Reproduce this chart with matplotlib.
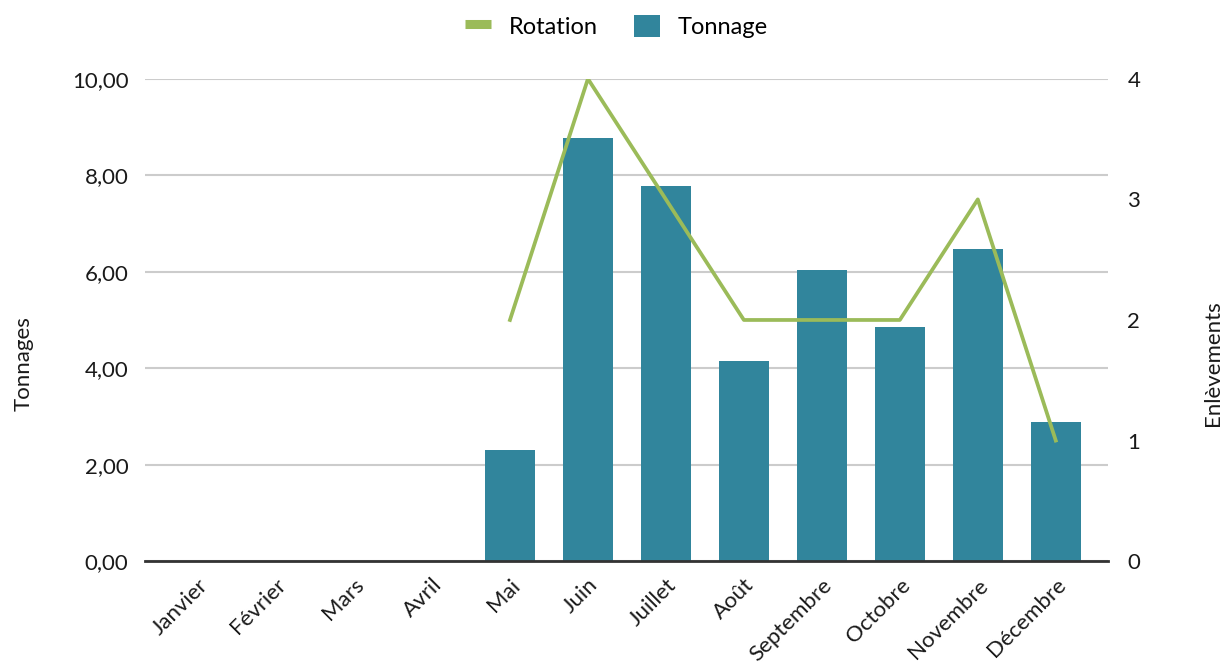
import matplotlib
matplotlib.use("Agg")
import matplotlib.pyplot as plt
from matplotlib.lines import Line2D
from matplotlib.patches import Patch
import numpy as np

plt.rcParams['font.family'] = ['Lato', 'DejaVu Sans']

months = ["Janvier", "Février", "Mars", "Avril", "Mai", "Juin", "Juillet",
          "Août", "Septembre", "Octobre", "Novembre", "Décembre"]
tonnage = [0, 0, 0, 0, 2.30, 8.77, 7.78, 4.14, 6.03, 4.86, 6.48, 2.88]
rotation = [np.nan, np.nan, np.nan, np.nan, 2, 4, 3, 2, 2, 2, 3, 1]

bar_color = "#31859C"
line_color = "#9BBB59"
text_color = "#1a1a1a"

fig = plt.figure(figsize=(12.25, 6.68), dpi=100)
ax = fig.add_axes([0.1184, 0.160, 0.7861, 0.722])
x = np.arange(len(months))
ax.bar(x, tonnage, width=0.64, color=bar_color, zorder=3)
ax.set_xlim(-0.68, 11.67)
ax.set_ylim(0, 10)
ax.set_yticks(np.arange(0, 10.1, 2))
ax.set_yticklabels([f"{v:.2f}".replace(".", ",") for v in np.arange(0, 10.1, 2)])
ax.grid(axis='y', color="#cccccc", linewidth=1.5, zorder=0)
ax.set_axisbelow(True)
for s in ["top", "left", "right"]:
    ax.spines[s].set_visible(False)
ax.spines["bottom"].set_color("#333333")
ax.spines["bottom"].set_linewidth(2)
ax.spines["bottom"].set_zorder(5)
ax.tick_params(axis='both', length=0, labelsize=16, colors=text_color, pad=12)
ax.set_xticks(x)
ax.set_xticklabels(months, rotation=45, ha='right', rotation_mode='anchor', fontsize=16)
ax.tick_params(axis='x', pad=10)
ax.set_ylabel("Tonnages", fontsize=16, color=text_color)
ax.yaxis.set_label_coords(-0.116, 0.41)

ax2 = ax.twinx()
ax2.plot(x, rotation, color=line_color, linewidth=2.7, zorder=4)
ax2.set_ylim(0, 4)
ax2.set_yticks([0, 1, 2, 3, 4])
for s in ["top", "left", "right", "bottom"]:
    ax2.spines[s].set_visible(False)
ax2.tick_params(axis='y', length=0, labelsize=16, colors=text_color, pad=14)
ax2.set_ylabel("Enlèvements", fontsize=16, color=text_color)
ax2.yaxis.set_label_coords(1.099, 0.41)

handles = [Line2D([0], [0], color=line_color, linewidth=6.5, solid_capstyle='butt'),
           Patch(facecolor=bar_color)]
fig.legend(handles, ["Rotation", "Tonnage"], loc="upper center",
           bbox_to_anchor=(0.503, 1.01), ncol=2, frameon=False, fontsize=17,
           handlelength=1.1, handleheight=1.06, handletextpad=0.76, columnspacing=1.53)

fig.savefig("out.png", dpi=100)
